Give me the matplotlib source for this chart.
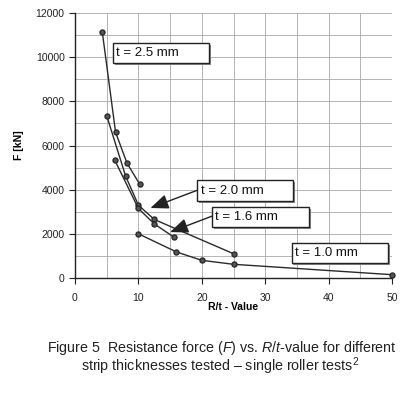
import matplotlib
matplotlib.use("Agg")
import matplotlib.pyplot as plt
from matplotlib.ticker import MultipleLocator
from matplotlib.patches import Rectangle

plt.rcParams['font.family'] = ['Liberation Sans', 'DejaVu Sans']
plt.rcParams['mathtext.fontset'] = 'custom'
plt.rcParams['mathtext.rm'] = 'Liberation Sans'
plt.rcParams['mathtext.it'] = 'Liberation Sans:italic'

# Data
x_25 = [4.3, 6.4, 8.2, 10.2]
f_25 = [11150, 6600, 5200, 4250]

x_20 = [5.0, 8.0, 10.0, 12.5, 25.0]
f_20 = [7350, 4600, 3300, 2650, 1100]

x_16 = [6.25, 10.0, 12.5, 15.6]
f_16 = [5350, 3150, 2450, 1850]

x_10 = [10.0, 16.0, 20.0, 25.0, 50.0]
f_10 = [2000, 1180, 800, 620, 150]

labels = ["t = 2.5 mm", "t = 2.0 mm", "t = 1.6 mm", "t = 1.0 mm"]
x_ticks = [0, 10, 20, 30, 40, 50]
y_ticks = [0, 2000, 4000, 6000, 8000, 10000, 12000]

W, H = 413, 394
fig = plt.figure(figsize=(W / 100, H / 100), dpi=100)
ax = fig.add_axes([75 / W, 1 - 278 / H, (392 - 75) / W, (278 - 13) / H])

col = '#2a2a2a'
for xs, fs in [(x_25, f_25), (x_20, f_20), (x_16, f_16), (x_10, f_10)]:
    ax.plot(xs, fs, color=col, lw=1.0, marker='o', ms=3.6, mfc='#555555', mec=col, zorder=3, clip_on=False)

ax.set_xlim(0, 50)
ax.set_ylim(0, 12000)
ax.set_xticks(x_ticks)
ax.set_yticks(y_ticks)
ax.xaxis.set_minor_locator(MultipleLocator(5))
ax.yaxis.set_minor_locator(MultipleLocator(1000))
ax.grid(True, which='both', color='#a8a8a8', lw=0.6)
ax.tick_params(which='minor', length=0)
ax.tick_params(which='major', length=4, direction='out', labelsize=7.5, colors='#222222')
ax.tick_params(axis='x', pad=7)
for s in ['top', 'right']:
    ax.spines[s].set_visible(False)
for s in ['left', 'bottom']:
    ax.spines[s].set_color('#222222')
    ax.spines[s].set_linewidth(1.0)

ax.set_ylabel("F [kN]", fontsize=7.5, fontweight='bold', labelpad=8)
ax.set_xlabel("R/t - Value", fontsize=7.5, fontweight='bold', labelpad=-1)

# label boxes (x0, x1, y0, y1) in data units
boxes = [(6.0, 21.2, 9750, 10650), (19.3, 34.4, 3480, 4430),
         (21.6, 36.9, 2330, 3220), (34.2, 49.4, 690, 1590)]
for (x0, x1, y0, y1), lab in zip(boxes, labels):
    ax.add_patch(Rectangle((x0 + 0.25, y0 - 90), x1 - x0, y1 - y0, fc='#888888', ec='none', zorder=4))
    ax.add_patch(Rectangle((x0, y0), x1 - x0, y1 - y0, fc='white', ec='#222222', lw=1.0, zorder=5))
    ax.text(x0 + 0.5, (y0 + y1) / 2, lab, fontsize=9.5, va='center', ha='left', zorder=6, color='#111111')

arrow = dict(arrowstyle='-|>,head_length=1.1,head_width=0.45', color='#222222', lw=1.0,
             shrinkA=0, shrinkB=0)
ax.annotate("", xy=(11.9, 3170), xytext=(19.3, 3975), arrowprops=arrow, zorder=5)
ax.annotate("", xy=(15.0, 2080), xytext=(21.6, 2800), arrowprops=arrow, zorder=5)

fig.text(222 / W, 1 - 348 / H, "Figure 5  Resistance force ($\\it{F}$) vs. $\\it{R/t}$-value for different",
         ha='center', va='center', fontsize=10.3, color='#222222')
fig.text(220 / W, 1 - 366 / H, "strip thicknesses tested \u2013 single roller tests$^2$",
         ha='center', va='center', fontsize=10.3, color='#222222')

fig.savefig("out.png", dpi=100)
